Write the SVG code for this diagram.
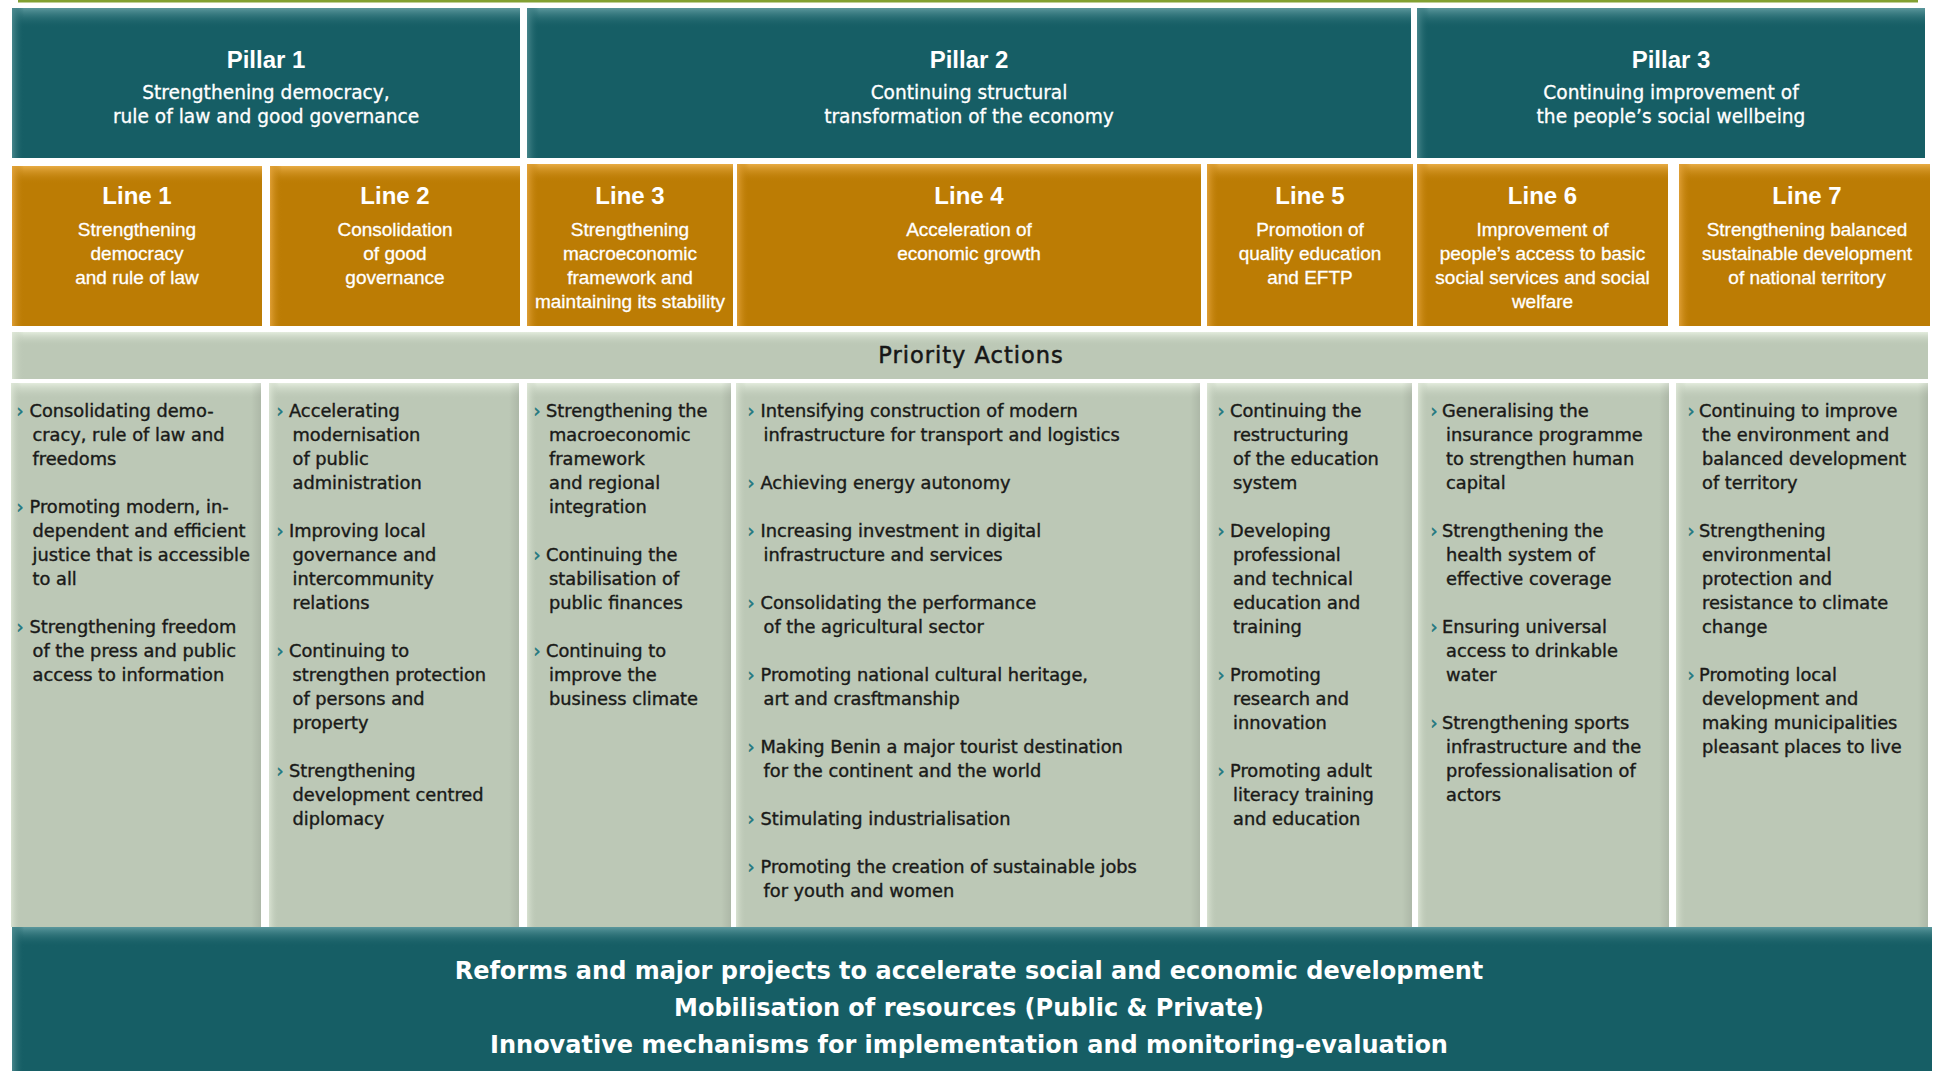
<svg xmlns="http://www.w3.org/2000/svg" width="1934" height="1071" viewBox="0 0 1934 1071">
<defs>
<linearGradient id="tV" x1="0" y1="0" x2="0" y2="1"><stop offset="0" stop-color="#5c989d"/><stop offset="1" stop-color="#165e65" stop-opacity="0"/></linearGradient>
<linearGradient id="tH" x1="0" y1="0" x2="1" y2="0"><stop offset="0" stop-color="#4c8a8f" stop-opacity="0.9"/><stop offset="1" stop-color="#165e65" stop-opacity="0"/></linearGradient>
<linearGradient id="oV" x1="0" y1="0" x2="0" y2="1"><stop offset="0" stop-color="#e8ac45"/><stop offset="1" stop-color="#bc7c04" stop-opacity="0"/></linearGradient>
<linearGradient id="oH" x1="0" y1="0" x2="1" y2="0"><stop offset="0" stop-color="#e2a23a" stop-opacity="0.9"/><stop offset="1" stop-color="#bc7c04" stop-opacity="0"/></linearGradient>
<linearGradient id="sV" x1="0" y1="0" x2="0" y2="1"><stop offset="0" stop-color="#e3ecdd"/><stop offset="1" stop-color="#bcc8b6" stop-opacity="0"/></linearGradient>
<linearGradient id="sH" x1="0" y1="0" x2="1" y2="0"><stop offset="0" stop-color="#dfe8d8" stop-opacity="0.8"/><stop offset="1" stop-color="#bcc8b6" stop-opacity="0"/></linearGradient>
<linearGradient id="dR" x1="0" y1="0" x2="1" y2="0"><stop offset="0" stop-color="#000" stop-opacity="0"/><stop offset="1" stop-color="#000" stop-opacity="0.08"/></linearGradient>
<style>
.teal{fill:#165e65}
.orange{fill:#bc7c04}
.sage{fill:#bcc8b6}
.ph{font-family:"Liberation Sans",Arial,sans-serif;font-weight:bold;font-size:24px;fill:#fff;text-anchor:middle}
.ps{font-family:"DejaVu Sans",sans-serif;font-size:18.6px;fill:#fff;stroke:#fff;stroke-width:0.3px;text-anchor:middle}
.lh{font-family:"Liberation Sans",Arial,sans-serif;font-weight:bold;font-size:24px;fill:#fff;text-anchor:middle}
.ls{font-family:"Liberation Sans",Arial,sans-serif;font-size:19px;fill:#fff;stroke:#fff;stroke-width:0.3px;text-anchor:middle}
.pa{font-family:"DejaVu Sans",sans-serif;font-size:22.5px;letter-spacing:1px;fill:#161616;stroke:#161616;stroke-width:0.5px;text-anchor:middle}
.ct{font-family:"DejaVu Sans",sans-serif;font-size:17.8px;fill:#1a1a18;stroke:#1a1a18;stroke-width:0.4px}
.bu{font-family:"DejaVu Sans",sans-serif;font-size:17.8px;fill:#1f7880;stroke:#1f7880;stroke-width:0.5px}
.bt{font-family:"DejaVu Sans",sans-serif;font-weight:bold;font-size:24px;fill:#fff;text-anchor:middle}
</style>
</defs>
<rect width="1934" height="1071" fill="#fff"/>
<rect x="18" y="0" width="1900" height="2.5" fill="#82a032"/>

<!-- Pillars -->
<g id="pillar1">
<rect class="teal" x="12" y="8" width="508" height="150"/>
<rect x="12" y="8" width="508" height="20" fill="url(#tV)"/>
<rect x="12" y="8" width="12" height="150" fill="url(#tH)"/>
<text class="ph" x="266" y="68">Pillar 1</text>
<text class="ps" x="266" y="99">Strengthening democracy,</text>
<text class="ps" x="266" y="123">rule of law and good governance</text>
</g>
<g id="pillar2">
<rect class="teal" x="527" y="8" width="884" height="150"/>
<rect x="527" y="8" width="884" height="20" fill="url(#tV)"/>
<rect x="527" y="8" width="12" height="150" fill="url(#tH)"/>
<text class="ph" x="969" y="68">Pillar 2</text>
<text class="ps" x="969" y="99">Continuing structural</text>
<text class="ps" x="969" y="123">transformation of the economy</text>
</g>
<g id="pillar3">
<rect class="teal" x="1417" y="8" width="508" height="150"/>
<rect x="1417" y="8" width="508" height="20" fill="url(#tV)"/>
<rect x="1417" y="8" width="12" height="150" fill="url(#tH)"/>
<text class="ph" x="1671" y="68">Pillar 3</text>
<text class="ps" x="1671" y="99">Continuing improvement of</text>
<text class="ps" x="1671" y="123">the people’s social wellbeing</text>
</g>

<!-- Lines -->
<g id="line1">
<rect class="orange" x="12" y="166" width="250" height="160"/>
<rect x="12" y="166" width="250" height="18" fill="url(#oV)"/>
<rect x="12" y="166" width="12" height="160" fill="url(#oH)"/>
<text class="lh" x="137" y="204">Line 1</text>
<text class="ls" x="137" y="236">Strengthening</text>
<text class="ls" x="137" y="260">democracy</text>
<text class="ls" x="137" y="284">and rule of law</text>
</g>
<g id="line2">
<rect class="orange" x="270" y="166" width="250" height="160"/>
<rect x="270" y="166" width="250" height="18" fill="url(#oV)"/>
<rect x="270" y="166" width="12" height="160" fill="url(#oH)"/>
<text class="lh" x="395" y="204">Line 2</text>
<text class="ls" x="395" y="236">Consolidation</text>
<text class="ls" x="395" y="260">of good</text>
<text class="ls" x="395" y="284">governance</text>
</g>
<g id="line3">
<rect class="orange" x="527" y="164" width="206" height="162"/>
<rect x="527" y="164" width="206" height="18" fill="url(#oV)"/>
<rect x="527" y="164" width="12" height="162" fill="url(#oH)"/>
<text class="lh" x="630" y="204">Line 3</text>
<text class="ls" x="630" y="236">Strengthening</text>
<text class="ls" x="630" y="260">macroeconomic</text>
<text class="ls" x="630" y="284">framework and</text>
<text class="ls" x="630" y="308">maintaining its stability</text>
</g>
<g id="line4">
<rect class="orange" x="737" y="164" width="464" height="162"/>
<rect x="737" y="164" width="464" height="18" fill="url(#oV)"/>
<rect x="737" y="164" width="12" height="162" fill="url(#oH)"/>
<text class="lh" x="969" y="204">Line 4</text>
<text class="ls" x="969" y="236">Acceleration of</text>
<text class="ls" x="969" y="260">economic growth</text>
</g>
<g id="line5">
<rect class="orange" x="1207" y="164" width="206" height="162"/>
<rect x="1207" y="164" width="206" height="18" fill="url(#oV)"/>
<rect x="1207" y="164" width="12" height="162" fill="url(#oH)"/>
<text class="lh" x="1310" y="204">Line 5</text>
<text class="ls" x="1310" y="236">Promotion of</text>
<text class="ls" x="1310" y="260">quality education</text>
<text class="ls" x="1310" y="284">and EFTP</text>
</g>
<g id="line6">
<rect class="orange" x="1417" y="164" width="251" height="162"/>
<rect x="1417" y="164" width="251" height="18" fill="url(#oV)"/>
<rect x="1417" y="164" width="12" height="162" fill="url(#oH)"/>
<text class="lh" x="1542.5" y="204">Line 6</text>
<text class="ls" x="1542.5" y="236">Improvement of</text>
<text class="ls" x="1542.5" y="260">people’s access to basic</text>
<text class="ls" x="1542.5" y="284">social services and social</text>
<text class="ls" x="1542.5" y="308">welfare</text>
</g>
<g id="line7">
<rect class="orange" x="1679" y="164" width="251" height="162"/>
<rect x="1679" y="164" width="251" height="18" fill="url(#oV)"/>
<rect x="1679" y="164" width="12" height="162" fill="url(#oH)"/>
<text class="lh" x="1807" y="204">Line 7</text>
<text class="ls" x="1807" y="236">Strengthening balanced</text>
<text class="ls" x="1807" y="260">sustainable development</text>
<text class="ls" x="1807" y="284">of national territory</text>
</g>

<!-- Priority Actions bar -->
<g id="priority-actions">
<rect class="sage" x="12" y="332" width="1916" height="47"/>
<rect x="12" y="332" width="1916" height="14" fill="url(#sV)"/>
<rect x="12" y="332" width="12" height="47" fill="url(#sH)"/>
<text class="pa" x="971" y="363">Priority Actions</text>
</g>

<!-- Columns -->
<g id="col1">
<rect class="sage" x="11" y="383" width="250" height="544"/>
<rect x="11" y="383" width="250" height="16" fill="url(#sV)"/>
<rect x="11" y="383" width="10" height="544" fill="url(#sH)"/>
<rect x="251" y="383" width="10" height="544" fill="url(#dR)"/>
<text class="bu" x="16.5" y="417">›</text><text class="ct" x="29.5" y="417">Consolidating demo-</text>
<text class="ct" x="32.5" y="441">cracy, rule of law and</text>
<text class="ct" x="32.5" y="465">freedoms</text>
<text class="bu" x="16.5" y="513">›</text><text class="ct" x="29.5" y="513">Promoting modern, in-</text>
<text class="ct" x="32.5" y="537">dependent and efficient</text>
<text class="ct" x="32.5" y="561">justice that is accessible</text>
<text class="ct" x="32.5" y="585">to all</text>
<text class="bu" x="16.5" y="633">›</text><text class="ct" x="29.5" y="633">Strengthening freedom</text>
<text class="ct" x="32.5" y="657">of the press and public</text>
<text class="ct" x="32.5" y="681">access to information</text>
</g>
<g id="col2">
<rect class="sage" x="269" y="383" width="250" height="544"/>
<rect x="269" y="383" width="250" height="16" fill="url(#sV)"/>
<rect x="269" y="383" width="10" height="544" fill="url(#sH)"/>
<rect x="509" y="383" width="10" height="544" fill="url(#dR)"/>
<text class="bu" x="276.5" y="417">›</text><text class="ct" x="289" y="417">Accelerating</text>
<text class="ct" x="292.5" y="441">modernisation</text>
<text class="ct" x="292.5" y="465">of public</text>
<text class="ct" x="292.5" y="489">administration</text>
<text class="bu" x="276.5" y="537">›</text><text class="ct" x="289" y="537">Improving local</text>
<text class="ct" x="292.5" y="561">governance and</text>
<text class="ct" x="292.5" y="585">intercommunity</text>
<text class="ct" x="292.5" y="609">relations</text>
<text class="bu" x="276.5" y="657">›</text><text class="ct" x="289" y="657">Continuing to</text>
<text class="ct" x="292.5" y="681">strengthen protection</text>
<text class="ct" x="292.5" y="705">of persons and</text>
<text class="ct" x="292.5" y="729">property</text>
<text class="bu" x="276.5" y="777">›</text><text class="ct" x="289" y="777">Strengthening</text>
<text class="ct" x="292.5" y="801">development centred</text>
<text class="ct" x="292.5" y="825">diplomacy</text>
</g>
<g id="col3">
<rect class="sage" x="527" y="383" width="204" height="544"/>
<rect x="527" y="383" width="204" height="16" fill="url(#sV)"/>
<rect x="527" y="383" width="10" height="544" fill="url(#sH)"/>
<rect x="721" y="383" width="10" height="544" fill="url(#dR)"/>
<text class="bu" x="533.5" y="417">›</text><text class="ct" x="546" y="417">Strengthening the</text>
<text class="ct" x="549" y="441">macroeconomic</text>
<text class="ct" x="549" y="465">framework</text>
<text class="ct" x="549" y="489">and regional</text>
<text class="ct" x="549" y="513">integration</text>
<text class="bu" x="533.5" y="561">›</text><text class="ct" x="546" y="561">Continuing the</text>
<text class="ct" x="549" y="585">stabilisation of</text>
<text class="ct" x="549" y="609">public finances</text>
<text class="bu" x="533.5" y="657">›</text><text class="ct" x="546" y="657">Continuing to</text>
<text class="ct" x="549" y="681">improve the</text>
<text class="ct" x="549" y="705">business climate</text>
</g>
<g id="col4">
<rect class="sage" x="736" y="383" width="464" height="544"/>
<rect x="736" y="383" width="464" height="16" fill="url(#sV)"/>
<rect x="736" y="383" width="10" height="544" fill="url(#sH)"/>
<rect x="1190" y="383" width="10" height="544" fill="url(#dR)"/>
<text class="bu" x="747.5" y="417">›</text><text class="ct" x="760.5" y="417">Intensifying construction of modern</text>
<text class="ct" x="763.5" y="441">infrastructure for transport and logistics</text>
<text class="bu" x="747.5" y="489">›</text><text class="ct" x="760.5" y="489">Achieving energy autonomy</text>
<text class="bu" x="747.5" y="537">›</text><text class="ct" x="760.5" y="537">Increasing investment in digital</text>
<text class="ct" x="763.5" y="561">infrastructure and services</text>
<text class="bu" x="747.5" y="609">›</text><text class="ct" x="760.5" y="609">Consolidating the performance</text>
<text class="ct" x="763.5" y="633">of the agricultural sector</text>
<text class="bu" x="747.5" y="681">›</text><text class="ct" x="760.5" y="681">Promoting national cultural heritage,</text>
<text class="ct" x="763.5" y="705">art and crasftmanship</text>
<text class="bu" x="747.5" y="753">›</text><text class="ct" x="760.5" y="753">Making Benin a major tourist destination</text>
<text class="ct" x="763.5" y="777">for the continent and the world</text>
<text class="bu" x="747.5" y="825">›</text><text class="ct" x="760.5" y="825">Stimulating industrialisation</text>
<text class="bu" x="747.5" y="873">›</text><text class="ct" x="760.5" y="873">Promoting the creation of sustainable jobs</text>
<text class="ct" x="763.5" y="897">for youth and women</text>
</g>
<g id="col5">
<rect class="sage" x="1207" y="383" width="205" height="544"/>
<rect x="1207" y="383" width="205" height="16" fill="url(#sV)"/>
<rect x="1207" y="383" width="10" height="544" fill="url(#sH)"/>
<rect x="1402" y="383" width="10" height="544" fill="url(#dR)"/>
<text class="bu" x="1217.5" y="417">›</text><text class="ct" x="1230" y="417">Continuing the</text>
<text class="ct" x="1233" y="441">restructuring</text>
<text class="ct" x="1233" y="465">of the education</text>
<text class="ct" x="1233" y="489">system</text>
<text class="bu" x="1217.5" y="537">›</text><text class="ct" x="1230" y="537">Developing</text>
<text class="ct" x="1233" y="561">professional</text>
<text class="ct" x="1233" y="585">and technical</text>
<text class="ct" x="1233" y="609">education and</text>
<text class="ct" x="1233" y="633">training</text>
<text class="bu" x="1217.5" y="681">›</text><text class="ct" x="1230" y="681">Promoting</text>
<text class="ct" x="1233" y="705">research and</text>
<text class="ct" x="1233" y="729">innovation</text>
<text class="bu" x="1217.5" y="777">›</text><text class="ct" x="1230" y="777">Promoting adult</text>
<text class="ct" x="1233" y="801">literacy training</text>
<text class="ct" x="1233" y="825">and education</text>
</g>
<g id="col6">
<rect class="sage" x="1418" y="383" width="251" height="544"/>
<rect x="1418" y="383" width="251" height="16" fill="url(#sV)"/>
<rect x="1418" y="383" width="10" height="544" fill="url(#sH)"/>
<rect x="1659" y="383" width="10" height="544" fill="url(#dR)"/>
<text class="bu" x="1430.5" y="417">›</text><text class="ct" x="1442" y="417">Generalising the</text>
<text class="ct" x="1446" y="441">insurance programme</text>
<text class="ct" x="1446" y="465">to strengthen human</text>
<text class="ct" x="1446" y="489">capital</text>
<text class="bu" x="1430.5" y="537">›</text><text class="ct" x="1442" y="537">Strengthening the</text>
<text class="ct" x="1446" y="561">health system of</text>
<text class="ct" x="1446" y="585">effective coverage</text>
<text class="bu" x="1430.5" y="633">›</text><text class="ct" x="1442" y="633">Ensuring universal</text>
<text class="ct" x="1446" y="657">access to drinkable</text>
<text class="ct" x="1446" y="681">water</text>
<text class="bu" x="1430.5" y="729">›</text><text class="ct" x="1442" y="729">Strengthening sports</text>
<text class="ct" x="1446" y="753">infrastructure and the</text>
<text class="ct" x="1446" y="777">professionalisation of</text>
<text class="ct" x="1446" y="801">actors</text>
</g>
<g id="col7">
<rect class="sage" x="1676" y="383" width="252" height="544"/>
<rect x="1676" y="383" width="252" height="16" fill="url(#sV)"/>
<rect x="1676" y="383" width="10" height="544" fill="url(#sH)"/>
<rect x="1918" y="383" width="10" height="544" fill="url(#dR)"/>
<text class="bu" x="1687.5" y="417">›</text><text class="ct" x="1699" y="417">Continuing to improve</text>
<text class="ct" x="1702" y="441">the environment and</text>
<text class="ct" x="1702" y="465">balanced development</text>
<text class="ct" x="1702" y="489">of territory</text>
<text class="bu" x="1687.5" y="537">›</text><text class="ct" x="1699" y="537">Strengthening</text>
<text class="ct" x="1702" y="561">environmental</text>
<text class="ct" x="1702" y="585">protection and</text>
<text class="ct" x="1702" y="609">resistance to climate</text>
<text class="ct" x="1702" y="633">change</text>
<text class="bu" x="1687.5" y="681">›</text><text class="ct" x="1699" y="681">Promoting local</text>
<text class="ct" x="1702" y="705">development and</text>
<text class="ct" x="1702" y="729">making municipalities</text>
<text class="ct" x="1702" y="753">pleasant places to live</text>
</g>

<!-- Bottom band -->
<g id="foundation">
<rect class="teal" x="12" y="927" width="1920" height="144"/>
<rect x="12" y="927" width="1920" height="20" fill="url(#tV)"/>
<rect x="12" y="927" width="12" height="144" fill="url(#tH)"/>
<text class="bt" x="969" y="979">Reforms and major projects to accelerate social and economic development</text>
<text class="bt" x="969" y="1016">Mobilisation of resources (Public &amp; Private)</text>
<text class="bt" x="969" y="1053">Innovative mechanisms for implementation and monitoring-evaluation</text>
</g>

<g id="connectors"></g>
</svg>
